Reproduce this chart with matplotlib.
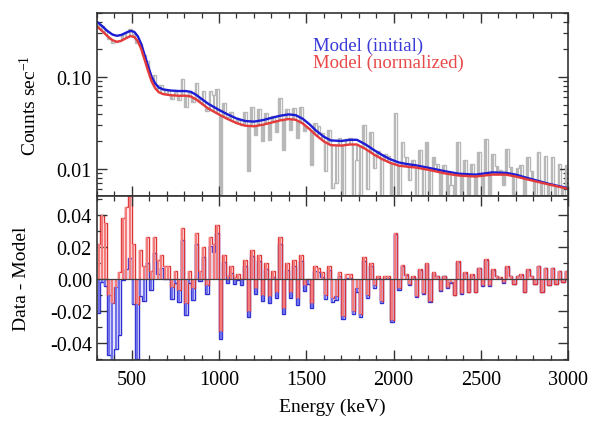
import numpy as np
import matplotlib
matplotlib.use('Agg')
import matplotlib.pyplot as plt
from matplotlib.ticker import FixedLocator, MultipleLocator, NullFormatter

plt.rcParams['font.family'] = ['Liberation Serif', 'DejaVu Serif']
plt.rcParams['mathtext.default'] = 'regular'
plt.rcParams['axes.unicode_minus'] = False

# model curves (keV, counts/s)
energy_nodes = [300, 330, 360, 390, 415, 440, 470, 493, 515, 535, 555, 575, 595, 615,
                635, 655, 680, 720, 770, 810, 840, 870, 900, 940, 1000, 1047, 1100,
                1150, 1200, 1250, 1300, 1350, 1400, 1440, 1480, 1520, 1553, 1600, 1640,
                1700, 1750, 1790, 1840, 1890, 1935, 1980, 2030, 2080, 2126, 2202, 2290,
                2374, 2470, 2565, 2642, 2700, 2756, 2820, 2890, 2950, 3000]
model_init = [0.400, 0.360, 0.318, 0.290, 0.281, 0.287, 0.305, 0.318, 0.310, 0.278,
              0.228, 0.172, 0.130, 0.100, 0.085, 0.077, 0.0735, 0.0715, 0.0705, 0.0705,
              0.069, 0.064, 0.058, 0.051, 0.044, 0.0395, 0.0355, 0.0333, 0.0328, 0.0340,
              0.0360, 0.0380, 0.0393, 0.0385, 0.0352, 0.0305, 0.0265, 0.0225, 0.0205,
              0.0202, 0.0208, 0.0208, 0.0185, 0.0160, 0.0142, 0.0128, 0.0118, 0.0113,
              0.0110, 0.0103, 0.0095, 0.0089, 0.0087, 0.0092, 0.0091, 0.0087, 0.0081,
              0.0075, 0.0069, 0.0065, 0.0062]
model_norm = [0.356, 0.318, 0.280, 0.252, 0.242, 0.248, 0.266, 0.279, 0.273, 0.245,
              0.201, 0.152, 0.115, 0.089, 0.0755, 0.0685, 0.0653, 0.0636, 0.0627, 0.0627,
              0.0614, 0.0570, 0.0516, 0.0454, 0.0392, 0.0352, 0.0316, 0.0296, 0.0292,
              0.0303, 0.0320, 0.0338, 0.0350, 0.0343, 0.0313, 0.0271, 0.0236, 0.0200,
              0.0182, 0.0180, 0.0185, 0.0185, 0.0165, 0.0143, 0.0128, 0.0117, 0.0109,
              0.0106, 0.0104, 0.0098, 0.0090, 0.0085, 0.0083, 0.0087, 0.0087, 0.0083,
              0.0078, 0.0073, 0.0068, 0.0064, 0.0061]

# 20 keV bins, residual data - normalized model
bin_edges = np.arange(300, 3020, 20)
res_norm = [0.022, 0.040, 0.035, -0.010, -0.015, -0.005, 0.004, 0.038, 0.045, 0.052,
            0.022, -0.016, 0.018, 0.008, 0.026, 0.005, 0.026, 0.012, 0.015, 0.008,
            0.008, -0.005, 0.005, -0.007, 0.032, -0.015, 0.005, -0.006, 0.029, 0.005,
            0.020, -0.004, 0.026, 0.022, 0.034, -0.033, 0.015, 0.002, 0.008, 0.001,
            0.003, 0.000, 0.012, -0.020, 0.018, -0.006, 0.015, -0.010, 0.010, -0.011,
            0.005, -0.008, 0.026, -0.018, 0.010, -0.008, 0.012, -0.012, 0.015, -0.004,
            0.000, -0.015, 0.008, 0.007, 0.004, -0.010, 0.008, -0.012, -0.011, 0.004,
            -0.023, 0.003, 0.003, -0.020, -0.006, -0.022, 0.0135, -0.010, 0.010, -0.004,
            0.002, -0.014, 0.002, 0.002, -0.026, 0.029, -0.006, 0.009, 0.003, -0.003,
            0.002, -0.011, 0.006, -0.009, 0.010, -0.014, 0.004, 0.002, -0.007, 0.002,
            -0.005, -0.002, -0.010, 0.011, -0.009, 0.004, -0.008, 0.003, -0.008, 0.007,
            -0.004, 0.0125, -0.004, 0.006, 0.002, 0.001, -0.002, 0.008, 0.002, -0.003,
            0.002, 0.003, -0.008, 0.006, 0.002, -0.003, 0.008, -0.008, 0.007, -0.004,
            0.007, -0.003, 0.005, -0.002, 0.005]

centers = 0.5 * (bin_edges[:-1] + bin_edges[1:])
res_norm = np.array(res_norm)
norm_c = np.interp(centers, energy_nodes, model_norm)
init_c = np.interp(centers, energy_nodes, model_init)
data = norm_c + res_norm
res_init = data - init_c

grey = '#b8b8b8'
blue = '#1c1cd4'
red = '#e43a3a'

fig = plt.figure(figsize=(5.9, 4.31), dpi=100)
ax1 = fig.add_axes([0.164, 0.543, 0.799, 0.425])
ax2 = fig.add_axes([0.164, 0.162, 0.799, 0.381])

# top panel
ax1.set_yscale('log', nonpositive='clip')
ax1.vlines(centers, norm_c, data, color=grey, lw=1.5)
ax1.stairs(data, bin_edges, color=grey, lw=1.0, baseline=None)
ax1.plot(energy_nodes, model_init, color=blue, lw=1.7)
ax1.plot(energy_nodes, model_norm, color=red, lw=1.7)
ax1.set_xlim(300, 3000)
ax1.set_ylim(0.0051, 0.5)
ax1.yaxis.set_major_locator(FixedLocator([0.01, 0.1]))
ax1.set_yticklabels(['0.01', '0.10'])
minor = [m * d for d in (0.001, 0.01, 0.1) for m in range(2, 10)]
ax1.yaxis.set_minor_locator(FixedLocator(minor))
ax1.yaxis.set_minor_formatter(NullFormatter())
ax1.xaxis.set_major_locator(MultipleLocator(500))
ax1.xaxis.set_minor_locator(MultipleLocator(100))
ax1.set_xticklabels([])
ax1.set_ylabel('Counts sec$^{-1}$', fontsize=14)
ax1.yaxis.set_label_coords(-0.121, 0.5)

ax1.text(0.459, 0.82, 'Model (initial)', transform=ax1.transAxes,
         color='#3a3ad8', fontsize=13.5, va='center')
ax1.text(0.459, 0.727, 'Model (normalized)', transform=ax1.transAxes,
         color='#e84848', fontsize=13.5, va='center')

# residual panel
ax2.vlines(centers, 0, res_init, color='#7070ea', lw=1.7)
ax2.stairs(res_init, bin_edges, color='#2e2ed0', lw=1.0, baseline=None)
ax2.vlines(centers, 0, res_norm, color='#f47c7c', lw=1.7)
ax2.stairs(res_norm, bin_edges, color='#dc3434', lw=1.0, baseline=None)
ax2.axhline(0, color='#404040', lw=0.9)
ax2.set_xlim(300, 3000)
ax2.set_ylim(-0.051, 0.052)
ax2.yaxis.set_major_locator(FixedLocator([-0.04, -0.02, 0.0, 0.02, 0.04]))
ax2.set_yticklabels(['-0.04', '-0.02', '0.00', '0.02', '0.04'])
ax2.yaxis.set_minor_locator(MultipleLocator(0.01))
ax2.xaxis.set_major_locator(MultipleLocator(500))
ax2.xaxis.set_minor_locator(MultipleLocator(100))
ax2.set_ylabel('Data - Model', fontsize=14)
ax2.yaxis.set_label_coords(-0.141, 0.5)
ax2.set_xlabel('Energy (keV)', fontsize=14, labelpad=6)

for ax in (ax1, ax2):
    ax.tick_params(which='both', direction='in', top=True, right=True,
                   labelsize=14.5, color='#333333')
    ax.tick_params(which='major', length=7, width=1)
    ax.tick_params(which='minor', length=3.5, width=0.9)
    ax.tick_params(axis='x', pad=7)
    for s in ax.spines.values():
        s.set_linewidth(1.2)
        s.set_color('#333333')

fig.savefig('out.png', dpi=100)
